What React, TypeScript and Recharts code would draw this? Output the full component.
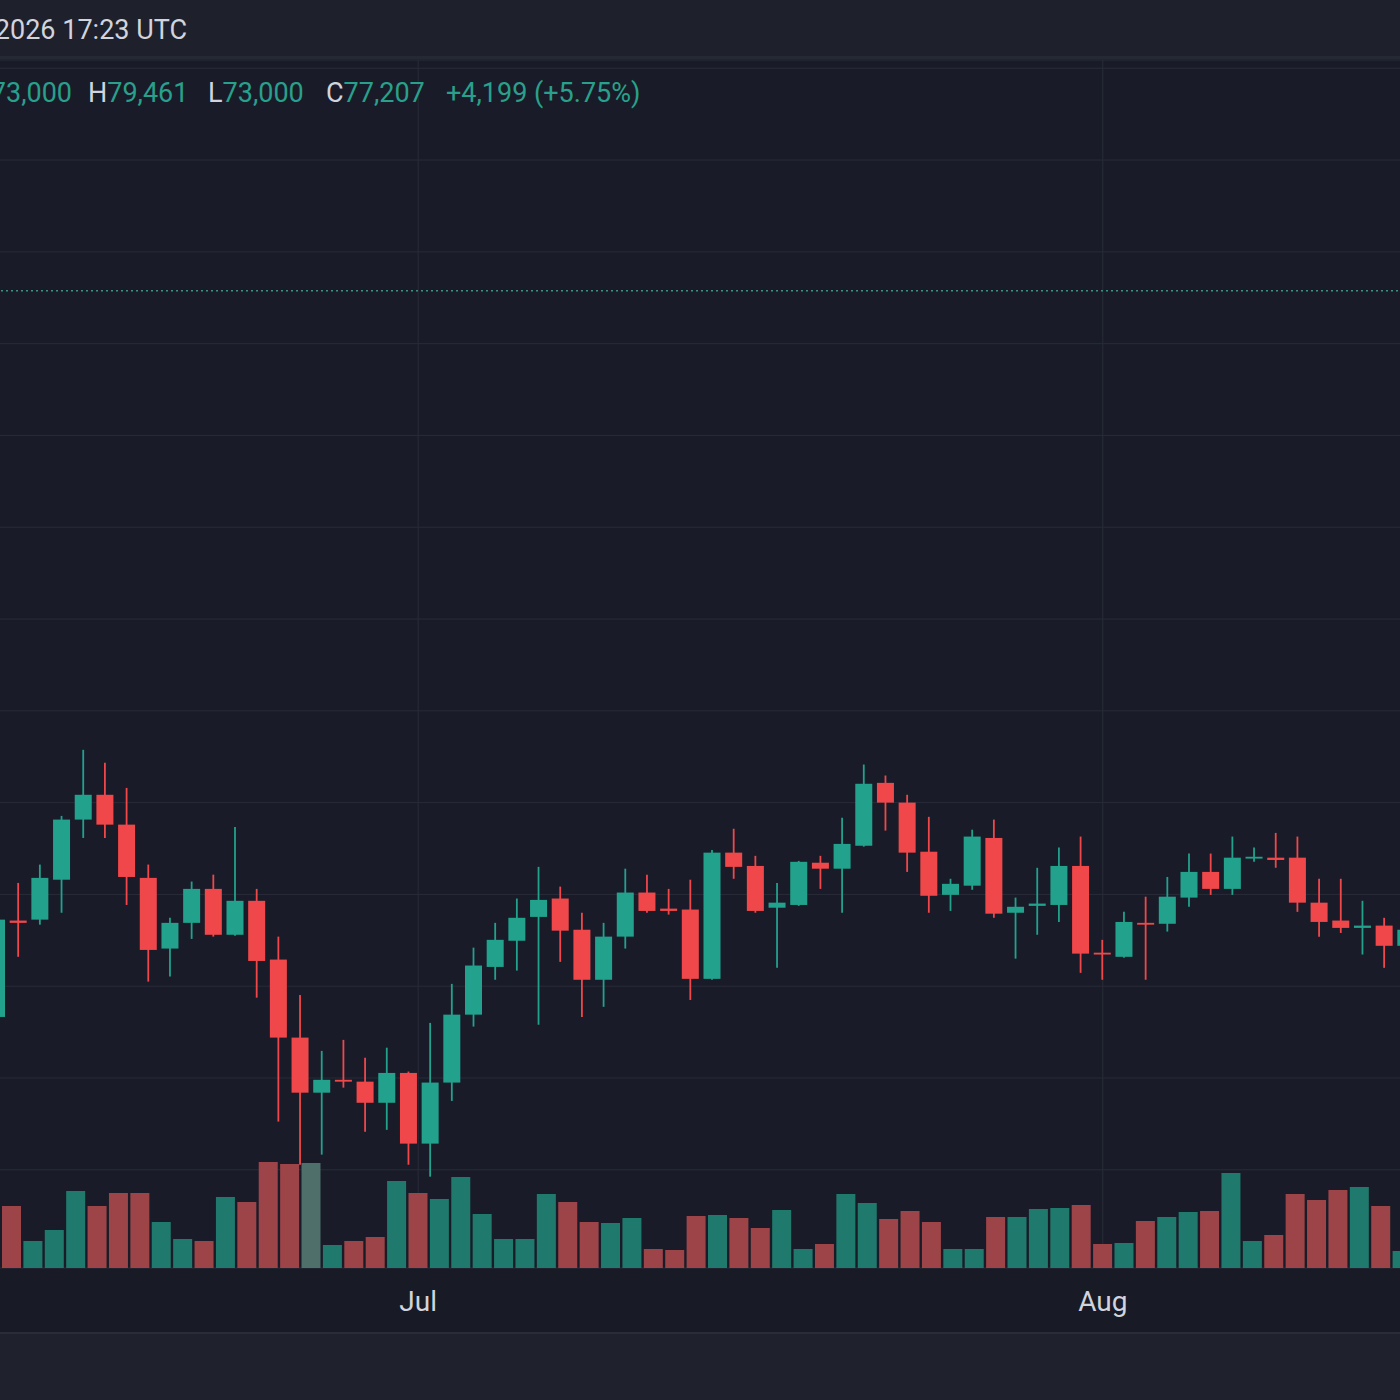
import { ComposedChart, Bar, Cell, XAxis, YAxis, CartesianGrid, ReferenceLine } from "recharts";

// daily candles (idx 19 = Jul, idx 51 = Aug)
const OPEN = [
  63330, 65430, 65450, 66320, 67630, 68170, 67520, 66360, 64820, 65380,
  66120, 65120, 65860, 64580, 62880, 61680, 61960, 61920, 61460, 62110,
  60570, 61900, 63380, 64420, 64990, 65510, 65910, 65230, 64140, 65080,
  66040, 65690, 65670, 64160, 66910, 66620, 65710, 65770, 66690, 66560,
  67060, 68430, 68000, 66930, 65990, 66190, 67230, 65600, 65750, 65770,
  66620, 64730, 64640, 65380, 65360, 65930, 66490, 66120, 66780, 66800,
  66800, 65820, 65430, 65270, 65320, 64880,
];
const HIGH = [
  65770, 66250, 66650, 67710, 69150, 68870, 68320, 66650, 65490, 66280,
  66430, 67470, 66120, 65080, 63810, 62590, 62830, 62440, 62660, 62140,
  63200, 64050, 64840, 65380, 65910, 66600, 66170, 65600, 65380, 66560,
  66430, 66120, 66320, 66970, 67430, 66840, 66250, 66730, 66840, 67670,
  68830, 68590, 68170, 67690, 66340, 67410, 67630, 65930, 66580, 67020,
  67260, 65010, 65620, 65950, 66380, 66890, 66890, 67260, 67020, 67340,
  67260, 66340, 66340, 65860, 65490, 65340,
];
const LOW = [
  63050, 64640, 65340, 65600, 67230, 67230, 65770, 64100, 64210, 65030,
  65080, 65100, 63750, 61050, 60110, 60330, 61790, 60830, 60870, 60110,
  59850, 61500, 63120, 64140, 64340, 63160, 64530, 63330, 63550, 64820,
  65600, 65560, 63700, 64140, 66340, 65600, 64400, 65750, 66120, 65600,
  67040, 67390, 66490, 65600, 65640, 66100, 65490, 64600, 65120, 65400,
  64290, 64140, 64620, 64140, 65190, 65730, 65990, 65990, 66710, 66580,
  65620, 65080, 65160, 64690, 64400, 64690,
];
const CLOSE = [
  65450, 65380, 66360, 67630, 68170, 67520, 66380, 64790, 65380, 66120,
  65120, 65860, 64550, 62880, 61680, 61960, 61920, 61460, 62110, 60570,
  61900, 63380, 64450, 65010, 65490, 65880, 65210, 64140, 65080, 66040,
  65640, 65640, 64160, 66910, 66600, 65640, 65820, 66710, 66560, 67100,
  68410, 68000, 66910, 65970, 66230, 67260, 65580, 65730, 65800, 66620,
  64710, 64690, 65400, 65340, 65950, 66490, 66120, 66800, 66820, 66750,
  65820, 65400, 65270, 65320, 64880, 65230,
];
const VOLUME = [
  62, 27, 38, 77, 62, 75, 75, 46, 29, 27,
  71, 66, 106, 104, 105, 23, 27, 31, 87, 75,
  69, 91, 54, 29, 29, 74, 66, 46, 45, 50,
  19, 18, 52, 53, 50, 40, 58, 19, 24, 74,
  65, 49, 57, 46, 19, 19, 51, 51, 59, 60,
  63, 24, 25, 47, 51, 56, 57, 95, 27, 33,
  74, 68, 78, 81, 62, 17,
];
// u = up, d = down, h = highlighted bar
const VOLUME_SIDE = [
  "d", "u", "u", "u", "d", "d", "d", "u", "u", "d",
  "u", "d", "d", "d", "h", "u", "d", "d", "u", "d",
  "u", "u", "u", "u", "u", "u", "d", "d", "u", "u",
  "d", "d", "d", "u", "d", "d", "u", "u", "d", "u",
  "u", "d", "d", "d", "u", "u", "d", "u", "u", "u",
  "d", "d", "u", "d", "u", "u", "d", "u", "u", "d",
  "d", "d", "d", "u", "d", "u",
];

const PRICE_TICKS = [60000, 62000, 64000, 66000, 68000, 70000, 72000, 74000, 76000, 78000, 80000, 82000, 84000];
const MONTH_TICKS = [
  { index: 19, label: "Jul" },
  { index: 51, label: "Aug" },
];
const LAST_PRICE = 79150;

const HEADER_TIME = "2026 17:23 UTC";
const LEGEND = [
  { key: "O", value: "73,000" },
  { key: "H", value: "79,461" },
  { key: "L", value: "73,000" },
  { key: "C", value: "77,207" },
];
const CHANGE = "+4,199 (+5.75%)";

const UP = "#22a18d";
const DOWN = "#f0474b";
const VOL_COLORS: Record<string, string> = { u: "#1f7a6d", d: "#9c4447", h: "#4f6f6b" };
const TEXT = "#d1d4dc";
const LEGEND_VALUE = "#29a08c";
const FONT = "Roboto, 'Noto Sans', sans-serif";

const data = OPEN.map((open, i) => ({
  i,
  open,
  high: HIGH[i],
  low: LOW[i],
  close: CLOSE[i],
  volume: VOLUME[i],
  side: VOLUME_SIDE[i],
}));

function Candle(props: any) {
  const { x, y, width, height, payload } = props;
  if (!payload) return null;
  const { open, close, high, low } = payload;
  const color = close >= open ? UP : DOWN;
  const top = Math.min(y, y + height);
  const h = Math.abs(height);
  const k = h / (high - low || 1);
  const bodyTop = top + (high - Math.max(open, close)) * k;
  const bodyBottom = top + (high - Math.min(open, close)) * k;
  const cx = x + width / 2;
  return (
    <g>
      <line x1={cx} x2={cx} y1={top} y2={top + h} stroke={color} strokeWidth={1.8} />
      <rect x={x} y={bodyTop} width={width} height={Math.max(bodyBottom - bodyTop, 1.8)} fill={color} />
    </g>
  );
}

function monthLabel(v: number) {
  const m = MONTH_TICKS.find((t) => t.index === v);
  return m ? m.label : "";
}

export default function App() {
  const legendX = [72, 88, 208, 326];
  return (
    <div
      style={{
        position: "absolute",
        top: 0,
        left: 0,
        width: 1400,
        height: 1400,
        overflow: "hidden",
        background: "#191c28",
        fontFamily: FONT,
      }}
    >
      <div style={{ position: "absolute", top: 0, left: 0, width: 1400, height: 56, background: "#1e212c" }} />
      <div style={{ position: "absolute", top: 56, left: 0, width: 1400, height: 3, background: "#252934" }} />
      <div style={{ position: "absolute", top: 1268, left: 0, width: 1400, height: 64, background: "#181b26" }} />
      <div style={{ position: "absolute", top: 1332, left: 0, width: 1400, height: 2, background: "#292d38" }} />
      <div style={{ position: "absolute", top: 1334, left: 0, width: 1400, height: 66, background: "#1f222d" }} />

      <div style={{ position: "absolute", top: 0, left: -14 }}>
        <ComposedChart width={1431} height={1400} data={data} margin={{ top: 60, right: 0, bottom: 68, left: 0 }}>
          <CartesianGrid xAxisId="v" stroke="#282c38" strokeWidth={1} />
          <XAxis
            xAxisId="v"
            dataKey="i"
            type="category"
            padding={{ left: 15, right: 4 }}
            ticks={MONTH_TICKS.map((t) => t.index)}
            tickFormatter={monthLabel}
            axisLine={false}
            tickLine={false}
            tickSize={0}
            tickMargin={23}
            height={64}
            interval={0}
            tick={{ fill: TEXT, fontSize: 28, fontFamily: FONT }}
          />
          <XAxis dataKey="i" type="category" height={0} hide />
          <YAxis domain={[57860, 84180]} ticks={PRICE_TICKS} allowDataOverflow hide />
          <YAxis yAxisId="vol" domain={[0, 1208]} hide />
          <ReferenceLine y={LAST_PRICE} stroke="#3b8f86" strokeWidth={1.5} strokeDasharray="2 3" />
          <Bar xAxisId="v" yAxisId="vol" dataKey="volume" barSize={19} isAnimationActive={false}>
            {data.map((d) => (
              <Cell key={d.i} fill={VOL_COLORS[d.side]} />
            ))}
          </Bar>
          <Bar
            dataKey={(d: any) => [d.low, d.high]}
            barSize={17}
            shape={<Candle />}
            isAnimationActive={false}
          />
        </ComposedChart>
      </div>

      <svg width={1400} height={130} style={{ position: "absolute", top: 0, left: 0 }}>
        <text x={187} y={39} textAnchor="end" fontSize={27} fill={TEXT} fontFamily={FONT}>
          {HEADER_TIME}
        </text>
        {LEGEND.map((item, n) => (
          <text
            key={item.key}
            x={legendX[n]}
            y={102}
            textAnchor={n === 0 ? "end" : "start"}
            fontSize={27}
            fontFamily={FONT}
          >
            <tspan fill={TEXT}>{item.key}</tspan>
            <tspan fill={LEGEND_VALUE}>{item.value}</tspan>
          </text>
        ))}
        <text x={446} y={102} fontSize={27} fill={LEGEND_VALUE} fontFamily={FONT}>
          {CHANGE}
        </text>
      </svg>
    </div>
  );
}
